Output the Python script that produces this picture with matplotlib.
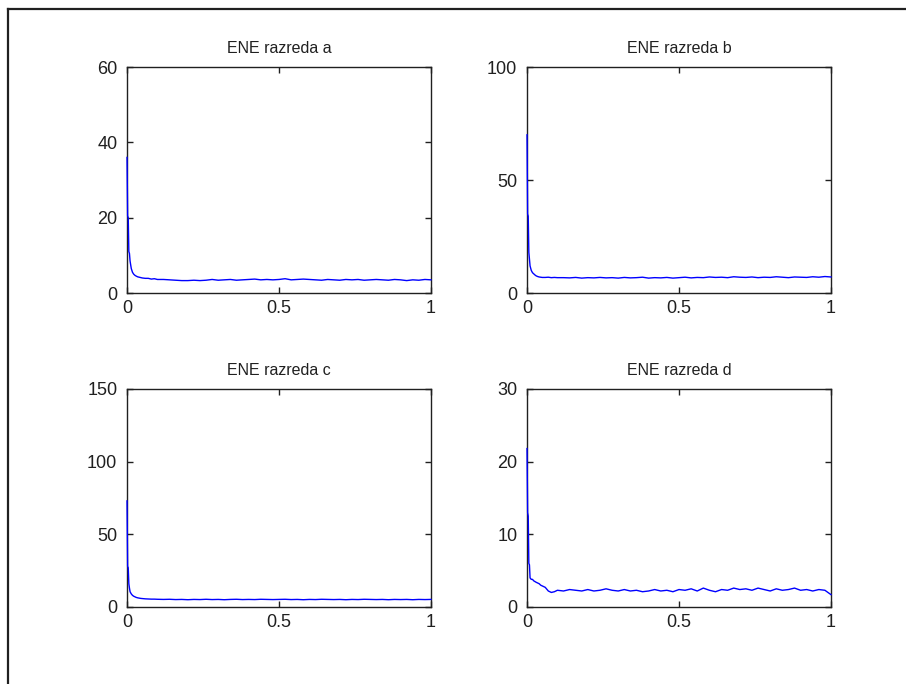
import numpy as np
import matplotlib
matplotlib.use("Agg")
import matplotlib.pyplot as plt
from matplotlib.lines import Line2D

plt.rcParams['font.family'] = ['Liberation Sans', 'DejaVu Sans']

# shared x samples (dense near zero where the curves drop)
x_vals = [0.000, 0.002, 0.004, 0.006, 0.008, 0.010, 0.014, 0.018, 0.022, 0.026,
          0.030, 0.035, 0.040, 0.045, 0.050, 0.060, 0.070, 0.080, 0.090, 0.100,
          0.12, 0.14, 0.16, 0.18, 0.20, 0.22, 0.24, 0.26, 0.28, 0.30,
          0.32, 0.34, 0.36, 0.38, 0.40, 0.42, 0.44, 0.46, 0.48, 0.50,
          0.52, 0.54, 0.56, 0.58, 0.60, 0.62, 0.64, 0.66, 0.68, 0.70,
          0.72, 0.74, 0.76, 0.78, 0.80, 0.82, 0.84, 0.86, 0.88, 0.90,
          0.92, 0.94, 0.96, 0.98, 1.00]

ene_a = [36.0, 20.5, 20.0, 11.0, 10.5, 8.5, 6.5, 5.5, 5.0, 4.7,
         4.5, 4.3, 4.2, 4.1, 4.0, 3.9, 3.9, 3.7, 3.8, 3.6,
         3.6, 3.5, 3.4, 3.3, 3.3, 3.4, 3.3, 3.4, 3.6, 3.4,
         3.5, 3.6, 3.4, 3.5, 3.6, 3.7, 3.5, 3.6, 3.5, 3.6,
         3.8, 3.5, 3.6, 3.7, 3.6, 3.5, 3.4, 3.6, 3.5, 3.4,
         3.6, 3.5, 3.6, 3.4, 3.5, 3.6, 3.5, 3.4, 3.6, 3.5,
         3.3, 3.5, 3.4, 3.6, 3.5]

ene_b = [70.0, 35.0, 34.0, 18.0, 15.0, 12.0, 10.0, 9.0, 8.5, 8.0,
         7.6, 7.3, 7.1, 7.0, 6.9, 6.9, 7.0, 6.8, 6.9, 6.8,
         6.8, 6.7, 6.9, 6.6, 6.8, 6.7, 6.9, 6.7, 6.8, 6.6,
         6.9, 6.7, 6.8, 7.0, 6.6, 6.8, 6.7, 6.9, 6.6, 6.8,
         7.0, 6.7, 6.9, 6.8, 7.1, 6.9, 7.0, 6.8, 7.2, 7.0,
         6.9, 7.1, 6.8, 7.0, 6.9, 7.2, 7.0, 6.8, 7.1, 7.0,
         6.9, 7.2, 7.0, 7.3, 7.1]

ene_c = [73.0, 28.0, 27.0, 16.0, 13.0, 10.5, 9.0, 8.0, 7.4, 7.0,
         6.6, 6.3, 6.1, 5.9, 5.8, 5.6, 5.5, 5.4, 5.4, 5.3,
         5.2, 5.3, 5.1, 5.2, 5.0, 5.2, 5.1, 5.3, 5.1, 5.2,
         5.0, 5.2, 5.3, 5.1, 5.2, 5.1, 5.3, 5.2, 5.1, 5.2,
         5.3, 5.1, 5.2, 5.0, 5.2, 5.1, 5.3, 5.2, 5.1, 5.2,
         5.0, 5.2, 5.1, 5.3, 5.2, 5.1, 5.2, 5.0, 5.2, 5.1,
         5.2, 5.0, 5.2, 5.1, 5.2]

ene_d = [21.8, 13.0, 12.5, 6.0, 5.8, 4.0, 3.8, 3.8, 3.6, 3.5,
         3.4, 3.3, 3.2, 3.0, 2.9, 2.7, 2.2, 2.0, 2.1, 2.3,
         2.2, 2.4, 2.3, 2.2, 2.4, 2.2, 2.3, 2.5, 2.3, 2.2,
         2.4, 2.2, 2.3, 2.1, 2.2, 2.4, 2.2, 2.3, 2.1, 2.4,
         2.3, 2.5, 2.2, 2.6, 2.3, 2.1, 2.4, 2.3, 2.6, 2.4,
         2.5, 2.3, 2.6, 2.4, 2.2, 2.5, 2.3, 2.4, 2.6, 2.3,
         2.4, 2.2, 2.4, 2.3, 1.7]

titles = ["ENE razreda a", "ENE razreda b", "ENE razreda c", "ENE razreda d"]
series = [ene_a, ene_b, ene_c, ene_d]
y_limits = [60, 100, 150, 30]
y_ticks = [[0, 20, 40, 60], [0, 50, 100], [0, 50, 100, 150], [0, 10, 20, 30]]
x_ticks = [0, 0.5, 1]
x_ticklabels = ["0", "0.5", "1"]

# axes boxes in figure fractions
positions = [[0.1402, 0.5716, 0.3355, 0.3304],
             [0.5817, 0.5716, 0.3355, 0.3304],
             [0.1402, 0.1126, 0.3355, 0.3187],
             [0.5817, 0.1126, 0.3355, 0.3187]]

fig = plt.figure(figsize=(9.06, 6.84), dpi=100)
fig.patch.set_facecolor("white")

# window border (left and top edges visible in the screenshot)
fig.add_artist(Line2D([7.5 / 906, 7.5 / 906], [0, 1 - 8.5 / 684], color="#202020", lw=1.6))
fig.add_artist(Line2D([7.5 / 906, 1], [1 - 8.5 / 684, 1 - 8.5 / 684], color="#202020", lw=1.6))

for i in range(4):
    ax = fig.add_axes(positions[i])
    # drawn above the spines, like matlab does
    ax.plot(x_vals, series[i], color=(0, 0, 1), lw=1.0, zorder=3, clip_on=False)
    ax.set_xlim(0, 1)
    ax.set_ylim(0, y_limits[i])
    ax.set_xticks(x_ticks)
    ax.set_xticklabels(x_ticklabels)
    ax.set_yticks(y_ticks[i])
    ax.tick_params(direction="in", length=4, width=1, top=True, right=True,
                   labelsize=13, pad=5, colors="#202020")
    ax.tick_params(axis="y", pad=7)
    for sp in ax.spines.values():
        sp.set_linewidth(1.0)
        sp.set_color("#202020")
    ax.set_title(titles[i], fontsize=11.5, pad=10, color="#202020")

fig.savefig("out.png", dpi=100, facecolor="white")
